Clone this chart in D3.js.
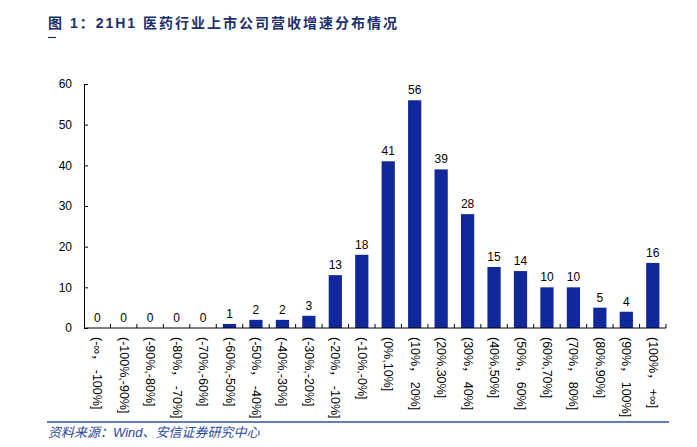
<!DOCTYPE html>
<html><head><meta charset="utf-8">
<script src="https://cdn.jsdelivr.net/npm/d3@7"></script>
<style>
body{margin:0;background:#fff;}
svg{display:block;}
</style></head>
<body>
<script>
const categories = ["(-∞，-100%]","(-100%,-90%]","(-90%,-80%]","(-80%，-70%]","(-70%,-60%]","(-60%,-50%]","(-50%，-40%]","(-40%,-30%]","(-30%,-20%]","(-20%，-10%]","(-10%,-0%]","(0%,10%]","(10%，20%]","(20%,30%]","(30%，40%]","(40%,50%]","(50%，60%]","(60%,70%]","(70%，80%]","(80%,90%]","(90%，100%]","(100%，+∞]"];
const values = [0,0,0,0,0,1,2,2,3,13,18,41,56,39,28,15,14,10,10,5,4,16];
const yTicks = [0,10,20,30,40,50,60];
const titleText = "图 1：21H1 医药行业上市公司营收增速分布情况";
const sourceText = "资料来源：Wind、安信证券研究中心";

const W = 697, H = 447;
const svg = d3.select("body").append("svg").attr("width", W).attr("height", H);
const font = "'Liberation Sans', Arial, 'Noto Sans CJK SC', sans-serif";

const x = d3.scaleBand().domain(categories).range([84, 666]).paddingInner(0.5).paddingOuter(0.25);
const y = d3.scaleLinear().domain([0, 60]).range([328, 84]);

// title
svg.append("text").attr("x", 48).attr("y", 28)
  .attr("font-family", "'Liberation Sans', 'Noto Sans CJK SC', sans-serif").attr("font-weight", "bold")
  .attr("font-size", 14).attr("letter-spacing", 2).attr("fill", "#1c2f6e")
  .text(titleText);
svg.append("line").attr("x1", 48).attr("x2", 56).attr("y1", 37.5).attr("y2", 37.5)
  .attr("stroke", "#1c2f6e").attr("stroke-width", 1.2);

// bars
svg.append("g").selectAll("rect").data(values).join("rect")
  .attr("x", (d, i) => x(categories[i]))
  .attr("y", d => y(d))
  .attr("width", x.bandwidth())
  .attr("height", d => y(0) - y(d))
  .attr("fill", "#10289a");

// value labels
svg.append("g").selectAll("text").data(values).join("text")
  .attr("x", (d, i) => x(categories[i]) + x.bandwidth() / 2)
  .attr("y", d => y(d) - 6)
  .attr("text-anchor", "middle")
  .attr("font-family", font).attr("font-size", 12).attr("fill", "#000")
  .text(d => d);

// y axis
const yAxis = d3.axisLeft(y).tickValues(yTicks).tickSize(-4).tickPadding(12).tickSizeOuter(0);
const gy = svg.append("g").attr("transform", "translate(84,0)").call(yAxis);
gy.select(".domain").attr("stroke", "#000");
gy.selectAll(".tick line").attr("stroke", "#000");
gy.selectAll(".tick text").attr("font-family", font).attr("font-size", 12).attr("fill", "#000");

// x axis line with ticks between categories
const gx = svg.append("g");
gx.append("line").attr("x1", 84).attr("x2", 666).attr("y1", y(0)).attr("y2", y(0)).attr("stroke", "#000");
const bounds = d3.range(1, categories.length + 1).map(k => 84 + k * (666 - 84) / categories.length);
gx.selectAll("line.t").data(bounds).join("line").attr("class", "t")
  .attr("x1", d => d).attr("x2", d => d).attr("y1", y(0)).attr("y2", y(0) - 4).attr("stroke", "#000");

// x labels rotated (full-width comma given a little extra room, as in the reference)
const xl = svg.append("g").selectAll("text").data(categories).join("text")
  .attr("transform", d => `translate(${x(d) + x.bandwidth() / 2 - 4},${y(0) + 9}) rotate(90)`)
  .attr("font-family", font).attr("font-size", 12.5).attr("fill", "#000")
  .attr("text-anchor", "start");
xl.each(function(d) {
  const sel = d3.select(this);
  const parts = d.split("，");
  if (parts.length === 1) { sel.text(d); return; }
  sel.append("tspan").text(parts[0] + "，");
  sel.append("tspan").attr("dx", 3).text(parts[1]);
});

// footer
svg.append("line").attr("x1", 47).attr("x2", 669).attr("y1", 422).attr("y2", 422)
  .attr("stroke", "#2f55a4").attr("stroke-width", 1.5);
svg.append("text").attr("x", 48).attr("y", 437)
  .attr("font-family", "'Liberation Sans', 'Noto Sans CJK SC', sans-serif").attr("font-style", "italic")
  .attr("font-size", 13).attr("fill", "#2a4a9c")
  .text(sourceText);
</script>
</body></html>
